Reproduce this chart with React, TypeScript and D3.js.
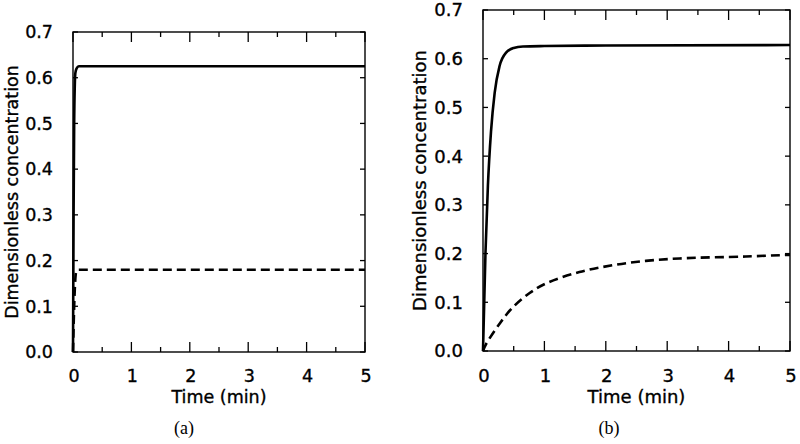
import React from "react";
import * as d3 from "d3";

// ---- Data ----
const timeTicks = [0, 1, 2, 3, 4, 5];
const minorTimeTicks = [0.5, 1.5, 2.5, 3.5, 4.5];
const concTicks = [0.0, 0.1, 0.2, 0.3, 0.4, 0.5, 0.6, 0.7];

// Panel (a)
const tSolidA = [0, 0.01, 0.02, 0.03, 0.04, 0.06, 0.1, 0.5, 5];
const cSolidA = [0, 0.3, 0.5, 0.58, 0.61, 0.62, 0.625, 0.625, 0.625];
const tDashA = [0, 0.02, 0.04, 0.06, 0.1, 5];
const cDashA = [0, 0.1, 0.16, 0.178, 0.18, 0.18];

// Panel (b)
const tSolidB = [0, 0.04, 0.08, 0.13, 0.19, 0.27, 0.38, 0.5, 0.65, 1, 2, 5];
const cSolidB = [0, 0.2, 0.34, 0.45, 0.53, 0.585, 0.613, 0.622, 0.625, 0.626, 0.627, 0.628];
const tDashB = [0, 0.05, 0.27, 0.48, 0.76, 1.03, 1.57, 2.11, 2.65, 3.2, 4.28, 4.93, 5];
const cDashB = [0, 0.014, 0.056, 0.089, 0.119, 0.139, 0.162, 0.176, 0.185, 0.19, 0.194, 0.197, 0.197];

const xTitle = "Time (min)";
const yTitle = "Dimensionless concentration";

type PanelProps = {
  left: number;
  right: number;
  top: number;
  bottom: number;
  solidT: number[];
  solidC: number[];
  dashT: number[];
  dashC: number[];
  label: string;
  labelX: number;
  yTitleX: number;
  fontSize: number;
  smoothDash: boolean;
};

const FONT = "'DejaVu Sans', sans-serif";
const textStyle = { stroke: "#000", strokeWidth: 0.35 };

function Panel(p: PanelProps) {
  const x = d3.scaleLinear().domain([0, 5]).range([p.left, p.right]);
  const y = d3.scaleLinear().domain([0, 0.7]).range([p.bottom, p.top]);
  const line = d3
    .line<[number, number]>()
    .x((d) => x(d[0]))
    .y((d) => y(d[1]))
    .curve(d3.curveMonotoneX);
  const dashLine = d3
    .line<[number, number]>()
    .x((d) => x(d[0]))
    .y((d) => y(d[1]))
    .curve(p.smoothDash ? d3.curveCatmullRom.alpha(0.5) : d3.curveMonotoneX);
  const solid = line(p.solidT.map((t, i) => [t, p.solidC[i]] as [number, number])) || "";
  const dash = dashLine(p.dashT.map((t, i) => [t, p.dashC[i]] as [number, number])) || "";
  const midX = (p.left + p.right) / 2;
  const midY = (p.top + p.bottom) / 2;
  return (
    <g>
      <path d={dash} fill="none" stroke="#000" strokeWidth={2.6} strokeDasharray="9,5" />
      <path d={solid} fill="none" stroke="#000" strokeWidth={2.6} />
      <rect
        x={p.left}
        y={p.top}
        width={p.right - p.left}
        height={p.bottom - p.top}
        fill="none"
        stroke="#000"
        strokeWidth={1.4}
      />
      {timeTicks.map((t) => (
        <g key={"xt" + t}>
          <line x1={x(t)} x2={x(t)} y1={p.bottom} y2={p.bottom - 10} stroke="#000" strokeWidth={1.3} />
          <line x1={x(t)} x2={x(t)} y1={p.top} y2={p.top + 10} stroke="#000" strokeWidth={1.3} />
          <text x={x(t) + 1} y={382} textAnchor="middle" fontFamily={FONT} fontSize={p.fontSize} {...textStyle}>
            {t}
          </text>
        </g>
      ))}
      {minorTimeTicks.map((t) => (
        <g key={"xm" + t}>
          <line x1={x(t)} x2={x(t)} y1={p.bottom} y2={p.bottom - 5} stroke="#000" strokeWidth={1.3} />
          <line x1={x(t)} x2={x(t)} y1={p.top} y2={p.top + 5} stroke="#000" strokeWidth={1.3} />
        </g>
      ))}
      {concTicks.map((c) => (
        <g key={"yt" + c}>
          <line x1={p.left} x2={p.left + 5} y1={y(c)} y2={y(c)} stroke="#000" strokeWidth={1.3} />
          <line x1={p.right} x2={p.right - 5} y1={y(c)} y2={y(c)} stroke="#000" strokeWidth={1.3} />
          <text
            x={p.left - 20}
            y={y(c)}
            dy="0.36em"
            textAnchor="end"
            fontFamily={FONT}
            fontSize={p.fontSize}
            {...textStyle}
          >
            {c.toFixed(1)}
          </text>
        </g>
      ))}
      <text x={midX} y={403} textAnchor="middle" fontFamily={FONT} fontSize={p.fontSize} {...textStyle}>
        {xTitle}
      </text>
      <text
        transform={`translate(${p.yTitleX},${midY}) rotate(-90)`}
        textAnchor="middle"
        fontFamily={FONT}
        fontSize={p.fontSize}
        {...textStyle}
      >
        {yTitle}
      </text>
      <text
        x={p.labelX}
        y={434}
        textAnchor="middle"
        fontFamily="'Liberation Serif', 'Times New Roman', serif"
        fontSize={18}
      >
        {p.label}
      </text>
    </g>
  );
}

export default function App() {
  return (
    <svg
      width={800}
      height={444}
      viewBox="0 0 800 444"
      style={{ position: "absolute", left: 0, top: 0, background: "#fff" }}
    >
      <rect x={0} y={0} width={800} height={444} fill="#fff" />
      <Panel
        left={73}
        right={365}
        top={32}
        bottom={352}
        solidT={tSolidA}
        solidC={cSolidA}
        dashT={tDashA}
        dashC={cDashA}
        label="(a)"
        labelX={184}
        yTitleX={18}
        fontSize={17.5}
        smoothDash={false}
      />
      <Panel
        left={483}
        right={790}
        top={10}
        bottom={351}
        solidT={tSolidB}
        solidC={cSolidB}
        dashT={tDashB}
        dashC={cDashB}
        label="(b)"
        labelX={609}
        yTitleX={426}
        fontSize={18}
        smoothDash={true}
      />
    </svg>
  );
}
